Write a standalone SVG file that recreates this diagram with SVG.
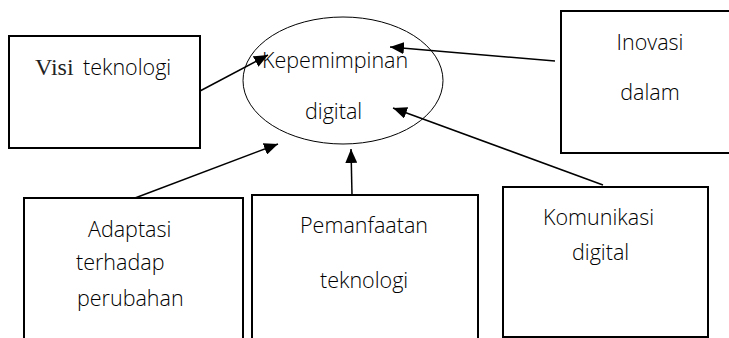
<svg xmlns="http://www.w3.org/2000/svg" width="729" height="338" viewBox="0 0 729 338">
<style>
.box{fill:#fff;stroke:#000;stroke-width:2}
.t{font-family:"Open Sans","Liberation Sans",sans-serif;font-size:21.5px;font-weight:300;fill:#000}
.s{font-family:"Liberation Serif",serif;font-size:24px;fill:#222}
.c{stroke:#000;stroke-width:1.5;fill:none;marker-end:url(#ah)}
</style>
<defs>
<marker id="ah" viewBox="0 0 10 10" refX="10" refY="5" markerWidth="14" markerHeight="12" markerUnits="userSpaceOnUse" orient="auto" preserveAspectRatio="none">
<path d="M0,0 L10,5 L0,10 Z" fill="#000"/>
</marker>
</defs>
<rect width="729" height="338" fill="#fff"/>
<g id="kepemimpinan">
<ellipse cx="343" cy="80.5" rx="100" ry="63.5" fill="none" stroke="#000" stroke-width="1"/>
<text class="t" x="262" y="68">Kepemimpinan</text>
<text class="t" x="305" y="119">digital</text>
</g>
<g id="visi">
<rect class="box" x="9" y="36" width="191" height="112"/>
<text y="75"><tspan class="s" x="35">Visi</tspan><tspan class="t" x="83">teknologi</tspan></text>
</g>
<g id="inovasi">
<rect class="box" x="561" y="11" width="170" height="142"/>
<text class="t" x="650" y="50" text-anchor="middle">Inovasi</text>
<text class="t" x="650" y="100" text-anchor="middle">dalam</text>
</g>
<g id="komunikasi">
<rect class="box" x="503" y="187" width="205" height="150"/>
<text class="t" x="543" y="225">Komunikasi</text>
<text class="t" x="572" y="260">digital</text>
</g>
<g id="pemanfaatan">
<rect class="box" x="252" y="195" width="226" height="150"/>
<text class="t" x="300" y="233">Pemanfaatan</text>
<text class="t" x="320" y="288">teknologi</text>
</g>
<g id="adaptasi">
<rect class="box" x="24" y="198" width="219" height="150"/>
<text class="t" x="88" y="237">Adaptasi</text>
<text class="t" x="76" y="270">terhadap</text>
<text class="t" x="77" y="306">perubahan</text>
</g>
<g id="connectors">
<line class="c" x1="200" y1="91" x2="268" y2="55"/>
<line class="c" x1="555" y1="61" x2="390" y2="47"/>
<line class="c" x1="603" y1="185" x2="393" y2="108"/>
<line class="c" x1="352" y1="195" x2="351" y2="149"/>
<line class="c" x1="135" y1="198" x2="278" y2="144"/>
</g>
</svg>
